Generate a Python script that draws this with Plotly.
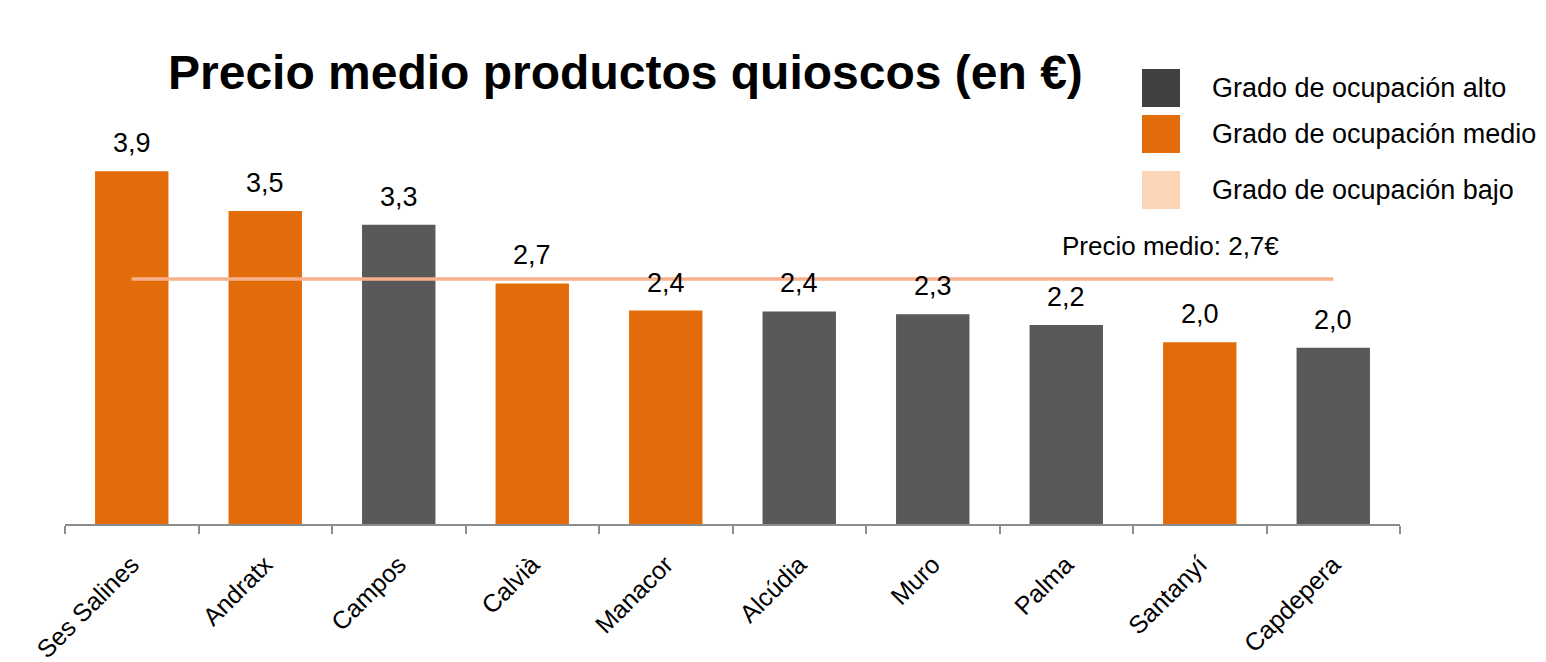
import plotly.graph_objects as go

municipios = ["Ses Salines", "Andratx", "Campos", "Calvià", "Manacor",
              "Alcúdia", "Muro", "Palma", "Santanyí", "Capdepera"]
precios = [3.9, 3.46, 3.31, 2.66, 2.36, 2.35, 2.32, 2.2, 2.01, 1.95]
etiquetas = ["3,9", "3,5", "3,3", "2,7", "2,4", "2,4", "2,3", "2,2", "2,0", "2,0"]
ocupacion = ["medio", "medio", "alto", "medio", "medio",
             "alto", "alto", "alto", "medio", "alto"]
precio_medio = 2.71
precio_medio_txt = "Precio medio: 2,7€"

leyenda_txt = ["Grado de ocupación alto", "Grado de ocupación medio", "Grado de ocupación bajo"]

COL_BAR = {"alto": "#595959", "medio": "#E36C0A", "bajo": "#FBD5B5"}
COL_LEG = ["#404040", "#E36C0A", "#FBD5B5"]
FONT = "Arial, Liberation Sans, sans-serif"

W, H = 1546, 662
L, R, T, B = 57, 154, 109, 146

fig = go.Figure()
fig.add_trace(go.Bar(
    x=municipios, y=precios,
    marker=dict(color=[COL_BAR[o] for o in ocupacion], line=dict(width=0)),
    showlegend=False, hoverinfo="x+y",
))
fig.add_trace(go.Scatter(
    x=[municipios[0], municipios[-1]], y=[precio_medio, precio_medio],
    mode="lines", line=dict(color="#F8B08C", width=3.5),
    showlegend=False, hoverinfo="skip",
))

for m, v, t in zip(municipios, precios, etiquetas):
    fig.add_annotation(x=m, y=v, text=t, showarrow=False, yanchor="bottom",
                       yshift=11, font=dict(family=FONT, size=27, color="#000000"))

fig.add_annotation(x=7.78, y=precio_medio, text=precio_medio_txt, showarrow=False,
                   yanchor="bottom", yshift=16,
                   font=dict(family=FONT, size=26, color="#000000"))

# custom legend (pixel layout converted to paper coords)
pw, ph = W - L - R, H - T - B
def px_x(x):
    return (x - L) / pw
def px_y(y):
    return (H - B - y) / ph

leg_rows = [80, 126, 182]
for i, (txt, col) in enumerate(zip(leyenda_txt, COL_LEG)):
    yc = leg_rows[i]
    fig.add_shape(type="rect", xref="paper", yref="paper",
                  x0=px_x(1134), x1=px_x(1172), y0=px_y(yc - 19), y1=px_y(yc + 19),
                  fillcolor=col, line=dict(width=0), layer="above")
    fig.add_annotation(xref="paper", yref="paper", x=px_x(1202), y=px_y(yc),
                       text=txt, showarrow=False, xanchor="left", yanchor="middle",
                       font=dict(family=FONT, size=27, color="#000000"))

fig.update_layout(
    width=W, height=H,
    margin=dict(l=L, r=R, t=T, b=B, pad=0, autoexpand=False),
    paper_bgcolor="white", plot_bgcolor="white",
    bargap=0.45,
    title=dict(text="<b>Precio medio productos quioscos (en €)</b>",
               x=160 / W, xanchor="left", xref="container",
               y=1 - 64 / H, yanchor="middle", yref="container",
               font=dict(family=FONT, size=48, color="#000000")),
    xaxis=dict(type="category", range=[-0.5, 9.5], showgrid=False,
               showline=True, linecolor="#8C8C8C", linewidth=2,
               ticks="outside", tickson="boundaries", ticklen=8, tickwidth=1.5,
               tickcolor="#8C8C8C", tickangle=-45, ticklabelstandoff=14,
               tickfont=dict(family=FONT, size=25, color="#000000")),
    yaxis=dict(range=[0, 4.5], visible=False, showgrid=False, zeroline=False),
)

fig.write_html("out.html")
